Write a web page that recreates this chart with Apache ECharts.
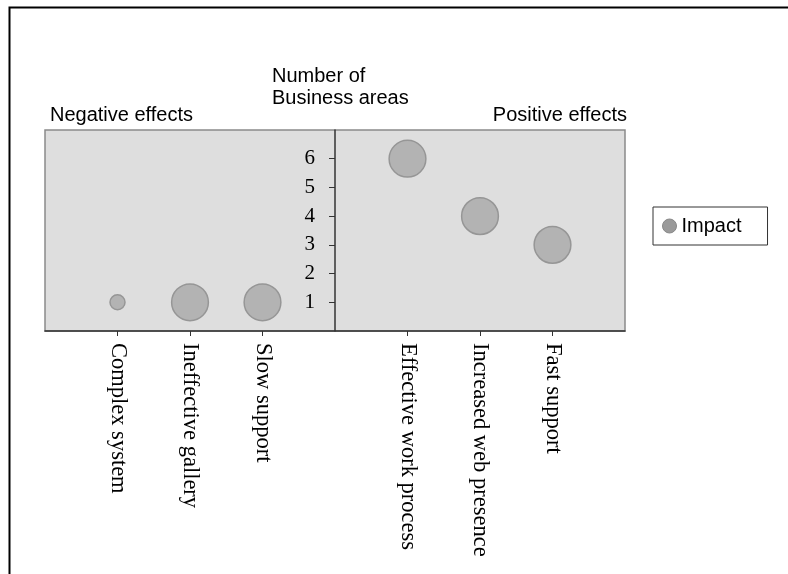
<!DOCTYPE html>
<html>
<head>
<meta charset="utf-8">
<script src="https://cdn.jsdelivr.net/npm/echarts@6/dist/echarts.min.js"></script>
<style>
  html, body { margin: 0; padding: 0; background: #fff; }
  #chart { width: 788px; height: 574px; }
</style>
</head>
<body>
<div id="chart"></div>
<script>
// Effects grouped as negative (left) and positive (right); empty slots pad the ends and the middle.
const categories = ['', 'Complex system', 'Ineffective gallery', 'Slow support', '',
  'Effective work process', 'Increased web presence', 'Fast support', ''];
// Number of business areas affected, per effect (null = empty slot)
const businessAreas = [null, 1, 1, 1, null, 6, 4, 3, null];
// Relative impact weight, drives bubble area
const impactWeight = [null, 1, 6, 6, null, 6, 6, 6, null];
const yTicks = [1, 2, 3, 4, 5, 6];

const SANS = 'Liberation Sans, Arial, sans-serif';
const SERIF = 'Liberation Serif, Times New Roman, serif';

const points = categories.map((c, i) => businessAreas[i] == null ? null
  : { value: [c, businessAreas[i], impactWeight[i]] }).filter(Boolean);

const chart = echarts.init(document.getElementById('chart'), null, { renderer: 'canvas' });
chart.setOption({
  animation: false,
  backgroundColor: '#fff',
  grid: {
    left: 45, top: 130, width: 580, height: 201,
    show: true, backgroundColor: '#dedede', borderColor: '#8a8a8a', borderWidth: 1.5
  },
  xAxis: {
    type: 'category',
    data: categories,
    boundaryGap: false,
    axisLine: { lineStyle: { color: '#333', width: 1.5 } },
    axisTick: { length: 5, lineStyle: { color: '#333' }, interval: (i, v) => v !== '' },
    axisLabel: {
      rotate: -90, margin: 12, interval: 0,
      fontFamily: SERIF, fontSize: 22.5, color: '#000'
    },
    splitLine: { show: false }
  },
  yAxis: {
    type: 'value', min: 0, max: 7, interval: 1,
    offset: -290,
    axisLine: { show: true, lineStyle: { color: '#333', width: 1.5 } },
    axisTick: { show: true, length: 6, lineStyle: { color: '#333' }, customValues: yTicks },
    axisLabel: { margin: 20, fontFamily: SERIF, fontSize: 21, color: '#000', customValues: yTicks },
    splitLine: { show: false }
  },
  legend: {
    data: [{ name: 'Impact', itemStyle: { color: '#9a9a9a', borderColor: '#888', borderWidth: 1 } }],
    left: 653, top: 207,
    orient: 'vertical',
    icon: 'circle', itemWidth: 14, itemHeight: 14, itemGap: 6,
    borderColor: '#333', borderWidth: 1, padding: [9, 26, 9, 9],
    textStyle: { fontFamily: SANS, fontSize: 20, color: '#000' }
  },
  graphic: [
    { type: 'rect', shape: { x: 9.5, y: 7.5, width: 820, height: 620 },
      style: { fill: 'none', stroke: '#000', lineWidth: 2 }, silent: true },
    { type: 'text', left: 50, top: 105,
      style: { text: 'Negative effects', font: '20px ' + SANS, fill: '#000' } },
    { type: 'text', left: 272, top: 65,
      style: { text: 'Number of\nBusiness areas', font: '20px ' + SANS, lineHeight: 22, fill: '#000' } },
    { type: 'text', right: 788 - 627, top: 105,
      style: { text: 'Positive effects', font: '20px ' + SANS, fill: '#000', textAlign: 'right' } }
  ],
  series: [{
    name: 'Impact',
    type: 'scatter',
    data: points,
    symbolSize: v => 15 * Math.sqrt(v[2]),
    itemStyle: { color: '#b3b3b3', borderColor: '#969696', borderWidth: 1.5, opacity: 1 }
  }]
});
</script>
</body>
</html>
